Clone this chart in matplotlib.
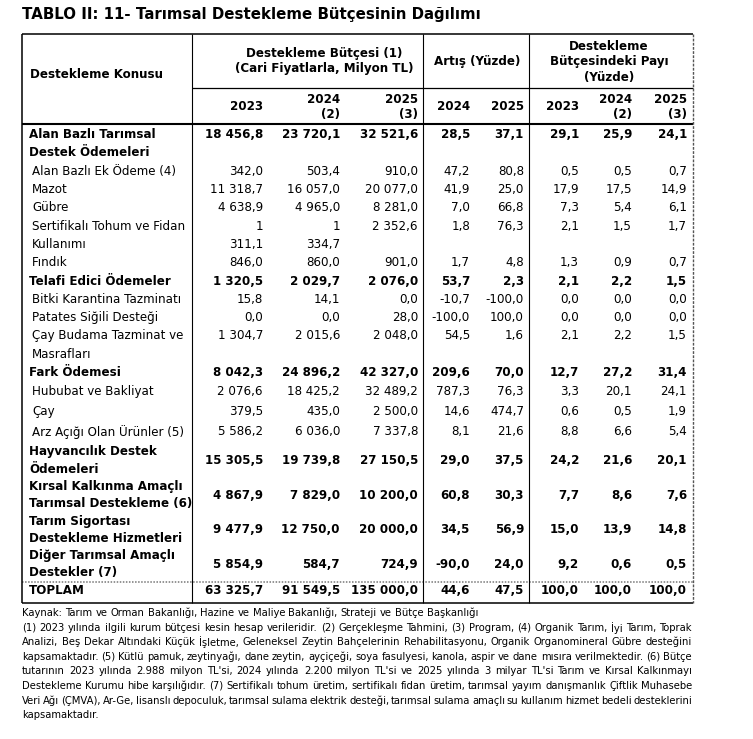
import matplotlib.pyplot as plt

plt.rcParams['font.family'] = ['DejaVu Sans']

# table contents
labels = [
    "Alan Bazlı Tarımsal\nDestek Ödemeleri",
    "Alan Bazlı Ek Ödeme (4)",
    "Mazot",
    "Gübre",
    "Sertifikalı Tohum ve Fidan\nKullanımı",
    "Fındık",
    "Telafi Edici Ödemeler",
    "Bitki Karantina Tazminatı",
    "Patates Siğili Desteği",
    "Çay Budama Tazminat ve\nMasrafları",
    "Fark Ödemesi",
    "Hububat ve Bakliyat",
    "Çay",
    "Arz Açığı Olan Ürünler (5)",
    "Hayvancılık Destek\nÖdemeleri",
    "Kırsal Kalkınma Amaçlı\nTarımsal Destekleme (6)",
    "Tarım Sigortası\nDestekleme Hizmetleri",
    "Diğer Tarımsal Amaçlı\nDestekler (7)",
    "TOPLAM",
]
is_main = [1, 0, 0, 0, 0, 0, 1, 0, 0, 0, 1, 0, 0, 0, 1, 1, 1, 1, 1]

butce_2023 = ["18 456,8", "342,0", "11 318,7", "4 638,9", "1\n311,1", "846,0",
              "1 320,5", "15,8", "0,0", "1 304,7", "8 042,3", "2 076,6", "379,5",
              "5 586,2", "15 305,5", "4 867,9", "9 477,9", "5 854,9", "63 325,7"]
butce_2024 = ["23 720,1", "503,4", "16 057,0", "4 965,0", "1\n334,7", "860,0",
              "2 029,7", "14,1", "0,0", "2 015,6", "24 896,2", "18 425,2", "435,0",
              "6 036,0", "19 739,8", "7 829,0", "12 750,0", "584,7", "91 549,5"]
butce_2025 = ["32 521,6", "910,0", "20 077,0", "8 281,0", "2 352,6", "901,0",
              "2 076,0", "0,0", "28,0", "2 048,0", "42 327,0", "32 489,2", "2 500,0",
              "7 337,8", "27 150,5", "10 200,0", "20 000,0", "724,9", "135 000,0"]
artis_2024 = ["28,5", "47,2", "41,9", "7,0", "1,8", "1,7", "53,7", "-10,7", "-100,0",
              "54,5", "209,6", "787,3", "14,6", "8,1", "29,0", "60,8", "34,5", "-90,0", "44,6"]
artis_2025 = ["37,1", "80,8", "25,0", "66,8", "76,3", "4,8", "2,3", "-100,0", "100,0",
              "1,6", "70,0", "76,3", "474,7", "21,6", "37,5", "30,3", "56,9", "24,0", "47,5"]
pay_2023 = ["29,1", "0,5", "17,9", "7,3", "2,1", "1,3", "2,1", "0,0", "0,0", "2,1",
            "12,7", "3,3", "0,6", "8,8", "24,2", "7,7", "15,0", "9,2", "100,0"]
pay_2024 = ["25,9", "0,5", "17,5", "5,4", "1,5", "0,9", "2,2", "0,0", "0,0", "2,2",
            "27,2", "20,1", "0,5", "6,6", "21,6", "8,6", "13,9", "0,6", "100,0"]
pay_2025 = ["24,1", "0,7", "14,9", "6,1", "1,7", "0,7", "1,5", "0,0", "0,0", "1,5",
            "31,4", "24,1", "1,9", "5,4", "20,1", "7,6", "14,8", "0,5", "100,0"]
year_heads = ["2023", "2024\n(2)", "2025\n(3)", "2024", "2025", "2023", "2024\n(2)", "2025\n(3)"]

title = "TABLO II: 11- Tarımsal Destekleme Bütçesinin Dağılımı"
notes = [
    "Kaynak: Tarım ve Orman Bakanlığı, Hazine ve Maliye Bakanlığı, Strateji ve Bütçe Başkanlığı",
    "(1) 2023 yılında ilgili kurum bütçesi kesin hesap verileridir. (2) Gerçekleşme Tahmini, (3) Program, (4) Organik Tarım, İyi Tarım, Toprak",
    "Analizi, Beş Dekar Altındaki Küçük İşletme, Geleneksel Zeytin Bahçelerinin Rehabilitasyonu, Organik Organomineral Gübre desteğini",
    "kapsamaktadır. (5) Kütlü pamuk, zeytinyağı, dane zeytin, ayçiçeği, soya fasulyesi, kanola, aspir ve dane mısıra verilmektedir. (6) Bütçe",
    "tutarının 2023 yılında 2.988 milyon TL'si, 2024 yılında 2.200 milyon TL'si ve 2025 yılında 3 milyar TL'si Tarım ve Kırsal Kalkınmayı",
    "Destekleme Kurumu hibe karşılığıdır. (7) Sertifikalı tohum üretim, sertifikalı fidan üretim, tarımsal yayım danışmanlık Çiftlik Muhasebe",
    "Veri Ağı (ÇMVA), Ar-Ge, lisanslı depoculuk, tarımsal sulama elektrik desteği, tarımsal sulama amaçlı su kullanım hizmet bedeli desteklerini",
    "kapsamaktadır.",
]
justify = [0, 1, 1, 1, 1, 1, 1, 0]

# layout (pixels)
W, H = 753, 739
fig = plt.figure(figsize=(W / 100, H / 100), dpi=100)
ax = fig.add_axes([0, 0, 1, 1])
ax.set_xlim(0, W)
ax.set_ylim(H, 0)
ax.axis('off')

FS = 8.6
left, right = 22, 693
col_lines = [192, 423, 529]
col_right = [263, 340, 418, 470, 524, 579, 632, 687]
top, mid, head_bot, sep, bot = 34, 88, 124, 582, 603
pitch = [18.3] * 11 + [20] * 3 + [17.3] * 4 + [21]
centered = [14, 15, 16, 17, 18]

ax.text(left, 15, title, fontsize=10.85, fontweight='bold', va='center', ha='left')

# grid
ax.hlines([top, bot], left, right, color='black', lw=1.1)
ax.hlines(head_bot, left, right, color='black', lw=1.5)
ax.hlines(mid, col_lines[0], right, color='black', lw=0.9)
ax.hlines(sep, left, right, color='#777777', lw=1.1, linestyles=(0, (1, 1)))
ax.vlines(left, top, bot, color='black', lw=1.1)
ax.vlines(right, top, bot, color='#555555', lw=1.0, linestyles=(0, (2, 1)))
ax.vlines(col_lines, top, bot, color='black', lw=0.8)

# header
hb = dict(fontsize=FS, fontweight='bold', va='center')
ax.text(30, 75, "Destekleme Konusu", ha='left', **hb)
ax.text(324, 61, "Destekleme Bütçesi (1)\n(Cari Fiyatlarla, Milyon TL)", ha='center',
        multialignment='center', linespacing=1.25, **hb)
ax.text(477, 62, "Artış (Yüzde)", ha='center', **hb)
ax.text(609, 62, "Destekleme\nBütçesindeki Payı\n(Yüzde)", ha='center',
        multialignment='center', linespacing=1.25, **hb)
for xr, yh in zip(col_right, year_heads):
    ax.text(xr, 107, yh, ha='right', multialignment='right', linespacing=1.2, **hb)

# body rows
columns = [butce_2023, butce_2024, butce_2025, artis_2024, artis_2025,
           pay_2023, pay_2024, pay_2025]
y = 125.5
for i, lab in enumerate(labels):
    n = lab.count('\n') + 1
    p = pitch[i]
    off = 1.5 if i in centered[:-1] else 0
    y_first = y + p / 2 + off
    weight = 'bold' if is_main[i] else 'normal'
    xl = 29 if is_main[i] else 32
    for k, line in enumerate(lab.split('\n')):
        ax.text(xl, y_first + k * p, line, fontsize=FS, fontweight=weight,
                ha='left', va='center')
    yv = y_first + (n - 1) * p / 2 if i in centered else y_first
    for xr, col in zip(col_right, columns):
        for k, v in enumerate(col[i].split('\n')):
            ax.text(xr, yv + k * p, v, fontsize=FS, fontweight=weight,
                    ha='right', va='center')
    y += n * p

# footnotes, justified between table edges
renderer = fig.canvas.get_renderer()
NS = 7.2
for j, line in enumerate(notes):
    yl = 613 + j * 14.6
    words = line.split(' ')
    ts = [ax.text(0, yl, w, fontsize=NS, ha='left', va='center') for w in words]
    ws = [t.get_window_extent(renderer).width for t in ts]
    if justify[j] and len(words) > 1:
        gap = (right - 1 - left - sum(ws)) / (len(words) - 1)
    else:
        gap = NS * 100 / 72 * 0.32
    x = left
    for t, w in zip(ts, ws):
        t.set_x(x)
        x += w + gap

fig.savefig('out.png', dpi=100)
